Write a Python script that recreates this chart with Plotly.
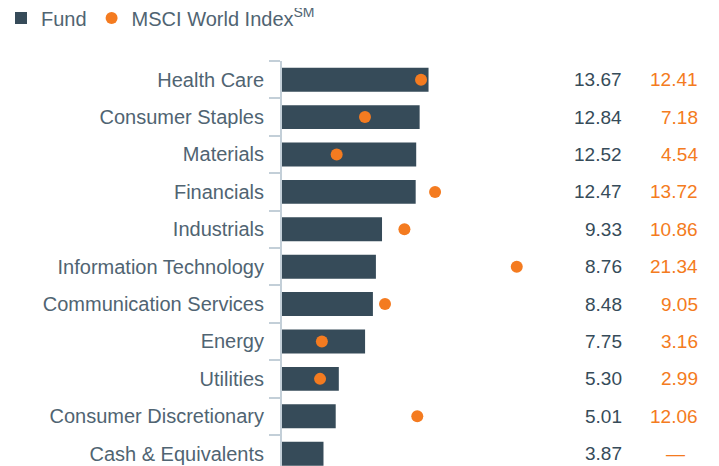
import plotly.graph_objects as go

categories = ["Health Care", "Consumer Staples", "Materials", "Financials", "Industrials",
              "Information Technology", "Communication Services", "Energy", "Utilities",
              "Consumer Discretionary", "Cash & Equivalents"]
fund = [13.67, 12.84, 12.52, 12.47, 9.33, 8.76, 8.48, 7.75, 5.30, 5.01, 3.87]
index_vals = [12.41, 7.18, 4.54, 13.72, 10.86, 21.34, 9.05, 3.16, 2.99, 12.06, None]

DARK = "#364b59"
ORANGE = "#f47b20"
TEXT = "#506472"
AXIS = "#c3cfd8"
FONT = "Liberation Sans, Arial, sans-serif"

OFF = 8  # page body margin
W, H = 719 - OFF, 466 - OFF
ML, MT = 282 - OFF, 61 - OFF
pw = W - ML
ph = H - MT
SCALE = 10.72        # pixels per percentage point
DOT_SHIFT = 6        # dots sit with their left edge at the value

fig = go.Figure()
fig.add_trace(go.Bar(x=fund, y=categories, orientation="h", width=0.64,
                     marker=dict(color=DARK, line=dict(width=0)), name="Fund",
                     hoverinfo="skip"))
fig.add_trace(go.Scatter(x=index_vals, y=categories, mode="markers", xaxis="x2",
                         marker=dict(color=ORANGE, size=12, line=dict(width=0)),
                         name="MSCI World Index<sup>SM</sup>", hoverinfo="skip"))


def px(page_x):
    return (page_x - OFF - ML) / pw


ann = []
for c, f, v in zip(categories, fund, index_vals):
    ann.append(dict(x=px(624), xref="paper", y=c, yref="y", text=f"{f:.2f}",
                    xanchor="right", yanchor="middle", showarrow=False,
                    font=dict(size=19, color=DARK, family=FONT)))
    if v is None:
        ann.append(dict(x=px(675), xref="paper", y=c, yref="y", text="—",
                        xanchor="center", yanchor="middle", showarrow=False,
                        font=dict(size=19, color=ORANGE, family=FONT)))
    else:
        ann.append(dict(x=px(700), xref="paper", y=c, yref="y", text=f"{v:.2f}",
                        xanchor="right", yanchor="middle", showarrow=False,
                        font=dict(size=19, color=ORANGE, family=FONT)))

xmax = pw / SCALE
sh = DOT_SHIFT / SCALE
fig.update_layout(
    width=W, height=H,
    margin=dict(l=ML, r=0, t=MT, b=0, pad=0, autoexpand=False),
    plot_bgcolor="white", paper_bgcolor="white",
    font=dict(family=FONT, size=20, color=TEXT),
    showlegend=True,
    legend=dict(orientation="h", x=-(ML + 7) / pw, xanchor="left",
                y=1 + (MT + 9.5) / ph, yanchor="top",
                font=dict(size=20, color=TEXT), itemwidth=30,
                bgcolor="rgba(0,0,0,0)"),
    xaxis=dict(range=[0, xmax], visible=False, showgrid=False, zeroline=False,
               automargin=False),
    xaxis2=dict(range=[-sh, xmax - sh], overlaying="x", visible=False,
                showgrid=False, zeroline=False, automargin=False),
    yaxis=dict(type="category", categoryorder="array", categoryarray=categories,
               range=[10.33, -0.5], showline=True, linecolor=AXIS, linewidth=2,
               ticks="outside", ticklen=11, tickcolor=AXIS, tickwidth=2,
               tickson="boundaries", showgrid=False, zeroline=False,
               ticklabelstandoff=12, automargin=False,
               tickfont=dict(size=20, color=TEXT, family=FONT)),
    annotations=ann,
    bargap=0.36,
)

fig.write_html("out.html")
